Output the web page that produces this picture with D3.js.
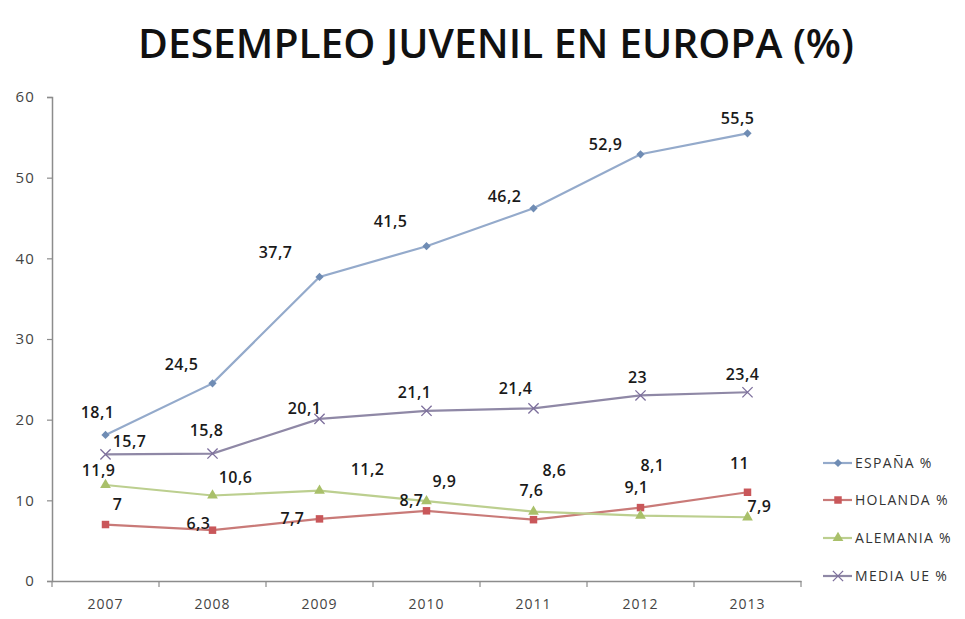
<!DOCTYPE html>
<html>
<head>
<meta charset="utf-8">
<script src="https://cdn.jsdelivr.net/npm/d3@7"></script>
<style>
html,body{margin:0;padding:0;background:#fff;}
svg{display:block;}
</style>
</head>
<body>
<svg id="chart" width="965" height="619"></svg>
<script>
// ---- data ----
const years = ["2007","2008","2009","2010","2011","2012","2013"];
const espana   = [18.1, 24.5, 37.7, 41.5, 46.2, 52.9, 55.5];
const holanda  = [7, 6.3, 7.7, 8.7, 7.6, 9.1, 11];
const alemania = [11.9, 10.6, 11.2, 9.9, 8.6, 8.1, 7.9];
const mediaUE  = [15.7, 15.8, 20.1, 21.1, 21.4, 23, 23.4];
const seriesNames = ["ESPAÑA %", "HOLANDA %", "ALEMANIA %", "MEDIA UE %"];
const yTicks = [0, 10, 20, 30, 40, 50, 60];
const title = "DESEMPLEO JUVENIL EN EUROPA (%)";

// ---- layout / style (not data) ----
const styles = [
  {line:"#94aacb", fill:"#6f8cb4", shape:"diamond"},
  {line:"#c97a78", fill:"#c9575a", shape:"square"},
  {line:"#bccf8f", fill:"#a9c06a", shape:"triangle"},
  {line:"#8f88a6", fill:"#7d6f9c", shape:"cross"}
];
// manual label offsets (px) as placed in the original chart
const labelOffsets = [
  [[-8,-23],[-31,-19],[-44,-24],[-36,-25],[-29,-12],[-35,-10],[-10,-15]],
  [[12,-20],[-14,-7],[-27,0],[-15,-10],[-2,-29],[-4,-20],[-8,-29]],
  [[-7,-15],[23,-18],[48,-21],[18,-20],[21,-41],[12,-50],[12,-11]],
  [[24,-13],[-6,-23],[-15,-10],[-12,-18],[-18,-20],[-3,-18],[-5,-18]]
];

const svg = d3.select("#chart");
const allSeries = [espana, holanda, alemania, mediaUE];

const x = d3.scaleBand().domain(years).range([52, 801]).paddingInner(0).paddingOuter(0);
const y = d3.scaleLinear().domain([0, 60]).range([581, 97]);
const cx = d => x(d) + x.bandwidth()/2;

// title
svg.append("text")
  .attr("x", 496).attr("y", 58)
  .attr("text-anchor", "middle")
  .attr("font-family", "'Open Sans', sans-serif")
  .attr("font-weight", 600)
  .attr("font-size", 40)
  .attr("fill", "#111")
  .attr("textLength", 716)
  .attr("lengthAdjust", "spacingAndGlyphs")
  .text(title);

// y axis
const yAxis = d3.axisLeft(y).tickValues(yTicks).tickSize(5).tickPadding(12).tickFormat(d3.format("d"));
const gy = svg.append("g").attr("transform", "translate(52,0)").call(yAxis);
gy.select(".domain").attr("stroke", "#8c8c8c").attr("stroke-width", 1.5);
gy.selectAll(".tick line").attr("stroke", "#8c8c8c").attr("stroke-width", 1.2);
gy.selectAll(".tick text").attr("font-family", "'Open Sans', sans-serif").attr("font-size", 15)
  .attr("letter-spacing", 1.2).attr("fill", "#444");

// x axis
const xAxis = d3.axisBottom(x).tickSize(0).tickPadding(18);
const gx = svg.append("g").attr("transform", "translate(0,581)").call(xAxis);
gx.select(".domain").attr("stroke", "#8c8c8c").attr("stroke-width", 1.5);
gx.selectAll(".tick text").attr("font-family", "'Open Sans', sans-serif").attr("font-size", 14)
  .attr("letter-spacing", 1).attr("fill", "#444");
// boundary ticks between categories
const bounds = years.map(d => x(d)).concat([x(years[years.length-1]) + x.bandwidth()]);
svg.append("g").selectAll("line").data(bounds).join("line")
  .attr("x1", d => d).attr("x2", d => d)
  .attr("y1", 581).attr("y2", 587)
  .attr("stroke", "#8c8c8c").attr("stroke-width", 1.2);

// marker drawing
function drawMarker(g, shape, fill, stroke, px, py) {
  if (shape === "diamond") {
    g.append("path").attr("d", d3.symbol().type(d3.symbolSquare).size(34)())
      .attr("transform", `translate(${px},${py}) rotate(45)`).attr("fill", fill);
  } else if (shape === "square") {
    g.append("path").attr("d", d3.symbol().type(d3.symbolSquare).size(56)())
      .attr("transform", `translate(${px},${py})`).attr("fill", fill);
  } else if (shape === "triangle") {
    g.append("path").attr("d", d3.symbol().type(d3.symbolTriangle).size(50)())
      .attr("transform", `translate(${px},${py})`).attr("fill", fill);
  } else {
    g.append("path").attr("d", d3.symbol().type(d3.symbolX).size(70)())
      .attr("transform", `translate(${px},${py})`).attr("fill", "none")
      .attr("stroke", stroke).attr("stroke-width", 1.3);
  }
}

const line = d3.line().x((d,i) => cx(years[i])).y(d => y(d));

allSeries.forEach((vals, si) => {
  const st = styles[si];
  const g = svg.append("g");
  g.append("path").datum(vals).attr("d", line)
    .attr("fill", "none").attr("stroke", st.line).attr("stroke-width", 2.2);
  vals.forEach((v, i) => drawMarker(g, st.shape, st.fill, st.fill, cx(years[i]), y(v)));
});

// data labels
allSeries.forEach((vals, si) => {
  svg.append("g").selectAll("text").data(vals).join("text")
    .attr("x", (d,i) => cx(years[i]) + labelOffsets[si][i][0])
    .attr("y", (d,i) => y(d) + labelOffsets[si][i][1])
    .attr("dy", "0.35em")
    .attr("text-anchor", "middle")
    .attr("font-family", "'Open Sans', sans-serif")
    .attr("font-weight", 600)
    .attr("font-size", 16)
    .attr("letter-spacing", 0.4)
    .attr("fill", "#1a1a1a")
    .text(d => String(d).replace(".", ","));
});

// legend
const legY = [463, 500, 538, 576];
const leg = svg.append("g");
seriesNames.forEach((name, si) => {
  const st = styles[si];
  const ly = legY[si];
  leg.append("line").attr("x1", 823).attr("x2", 852).attr("y1", ly).attr("y2", ly)
    .attr("stroke", st.line).attr("stroke-width", 2.2);
  drawMarker(leg, st.shape, st.fill, st.fill, 838, ly);
  leg.append("text").attr("x", 855).attr("y", ly).attr("dy", "0.35em")
    .attr("font-family", "'Open Sans', sans-serif").attr("font-size", 14)
    .attr("letter-spacing", 1.3)
    .attr("fill", "#333").text(name);
});
</script>
</body>
</html>
